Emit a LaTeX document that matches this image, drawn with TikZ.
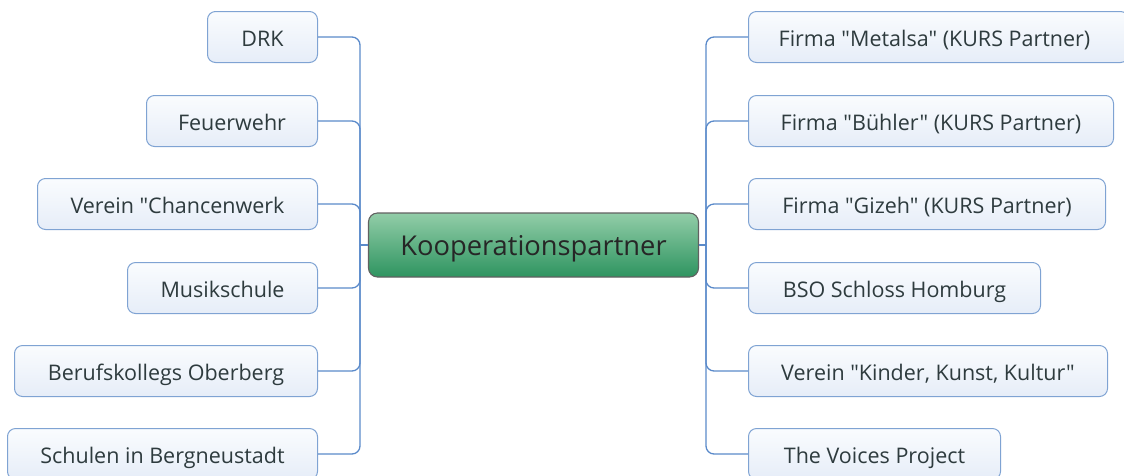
\documentclass[tikz,border=0pt]{standalone}
\usepackage{fontspec}
\setmainfont{Open Sans}[Ligatures=TeXOff]
\definecolor{bordblue}{HTML}{7FA3D3}
\definecolor{lineblue}{HTML}{5A8ACA}
\definecolor{boxtop}{HTML}{FAFCFE}
\definecolor{boxbot}{HTML}{E6EDF8}
\definecolor{gtop}{HTML}{92CDA8}
\definecolor{gbot}{HTML}{2E9460}
\definecolor{txt}{HTML}{2E3B3E}
\begin{document}
\begin{tikzpicture}[x=1pt,y=-1pt,
  leaf/.style={draw=bordblue, line width=1pt, rounded corners=8pt, top color=boxtop, bottom color=boxbot,
    minimum height=51pt, inner sep=0pt, text height=22pt, text depth=3pt, text=txt, font=\fontsize{21.5}{24}\selectfont},
  lleaf/.style={leaf, anchor=east},
  rleaf/.style={leaf, anchor=west},
  hub/.style={draw=black!62, line width=1.1pt, rounded corners=9pt, top color=gtop, bottom color=gbot,
    minimum width=330pt, minimum height=64pt, inner sep=0pt, text height=28pt, text depth=8pt, text=black!85, font=\fontsize{27.3}{31}\selectfont},
  conn/.style={draw=lineblue, line width=1.3pt, rounded corners=8pt}]
\useasboundingbox (0,0) rectangle (1124,475);
\clip (0,0) rectangle (1124,475);

\node[hub] (kp) at (533.5,245) {Kooperationspartner};

\coordinate (lmid) at (360,245);
\coordinate (rmid) at (706,245);

\node[lleaf, minimum width=110pt] (drk) at (318,37) {DRK};
\node[lleaf, minimum width=171pt] (fw) at (318,121) {Feuerwehr};
\node[lleaf, minimum width=280pt] (cw) at (318,204) {Verein "Chancenwerk};
\node[lleaf, minimum width=190pt] (ms) at (318,288) {Musikschule};
\node[lleaf, minimum width=303pt] (bk) at (318,371) {Berufskollegs Oberberg};
\node[lleaf, minimum width=310pt] (sb) at (318,454) {Schulen in Bergneustadt};

\node[rleaf, minimum width=380pt] (me) at (748,37) {\hspace*{-4pt}Firma "Metalsa" (KURS Partner)\hspace*{4pt}};
\node[rleaf, minimum width=365pt] (bu) at (748,121) {Firma "Bühler" (KURS Partner)};
\node[rleaf, minimum width=357pt] (gi) at (748,204) {Firma "Gizeh" (KURS Partner)};
\node[rleaf, minimum width=292pt] (bso) at (748,288) {BSO Schloss Homburg};
\node[rleaf, minimum width=359pt] (kkk) at (748,371) {Verein "Kinder, Kunst, Kultur"};
\node[rleaf, minimum width=252pt] (vp) at (748,454) {The Voices Project};

\foreach \n in {drk,fw,cw,ms,bk,sb} \draw[conn] (\n.east) -| (lmid);
\draw[conn] (lmid) -- (kp.west);
\draw[conn] (kp.east) -- (rmid);
\foreach \n in {me,bu,gi,bso,kkk,vp} \draw[conn] (rmid) |- (\n.west);
\end{tikzpicture}
\end{document}
